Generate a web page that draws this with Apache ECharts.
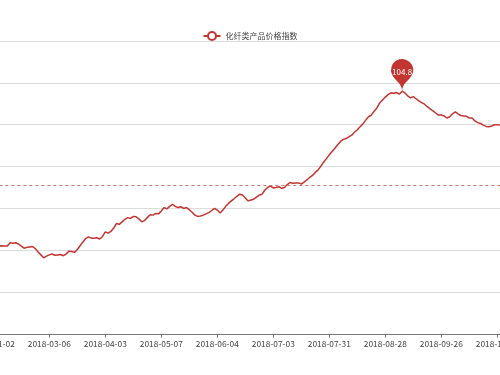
<!DOCTYPE html>
<html>
<head>
<meta charset="utf-8">
<script src="https://cdn.jsdelivr.net/npm/echarts@6/dist/echarts.min.js"></script>
<style>
html,body{margin:0;padding:0;background:#fff;overflow:hidden;width:500px;height:375px;position:relative;}
#chart{width:520px;height:375px;position:absolute;left:-10px;top:0;}
</style>
</head>
<body>
<div id="chart"></div>
<script>
var seriesName = '化纤类产品价格指数';

var dates = [
'2018-01-02','2018-01-31','2018-02-01','2018-02-02','2018-02-05','2018-02-06','2018-02-07','2018-02-08','2018-02-09','2018-02-12',
'2018-02-13','2018-02-14','2018-02-22','2018-02-23','2018-02-26','2018-02-27','2018-02-28','2018-03-01','2018-03-02','2018-03-05',
'2018-03-06','2018-03-07','2018-03-08','2018-03-09','2018-03-12','2018-03-13','2018-03-14','2018-03-15','2018-03-16','2018-03-19',
'2018-03-20','2018-03-21','2018-03-22','2018-03-23','2018-03-26','2018-03-27','2018-03-28','2018-03-29','2018-03-30','2018-04-02',
'2018-04-03','2018-04-04','2018-04-09','2018-04-10','2018-04-11','2018-04-12','2018-04-13','2018-04-16','2018-04-17','2018-04-18',
'2018-04-19','2018-04-20','2018-04-23','2018-04-24','2018-04-25','2018-04-26','2018-04-27','2018-05-02','2018-05-03','2018-05-04',
'2018-05-07','2018-05-08','2018-05-09','2018-05-10','2018-05-11','2018-05-14','2018-05-15','2018-05-16','2018-05-17','2018-05-18',
'2018-05-21','2018-05-22','2018-05-23','2018-05-24','2018-05-25','2018-05-28','2018-05-29','2018-05-30','2018-05-31','2018-06-01',
'2018-06-04','2018-06-05','2018-06-06','2018-06-07','2018-06-08','2018-06-11','2018-06-12','2018-06-13','2018-06-14','2018-06-15',
'2018-06-19','2018-06-20','2018-06-21','2018-06-22','2018-06-25','2018-06-26','2018-06-27','2018-06-28','2018-06-29','2018-07-02',
'2018-07-03','2018-07-04','2018-07-05','2018-07-06','2018-07-09','2018-07-10','2018-07-11','2018-07-12','2018-07-13','2018-07-16',
'2018-07-17','2018-07-18','2018-07-19','2018-07-20','2018-07-23','2018-07-24','2018-07-25','2018-07-26','2018-07-27','2018-07-30',
'2018-07-31','2018-08-01','2018-08-02','2018-08-03','2018-08-06','2018-08-07','2018-08-08','2018-08-09','2018-08-10','2018-08-13',
'2018-08-14','2018-08-15','2018-08-16','2018-08-17','2018-08-20','2018-08-21','2018-08-22','2018-08-23','2018-08-24','2018-08-27',
'2018-08-28','2018-08-29','2018-08-30','2018-08-31','2018-09-03','2018-09-04','2018-09-05','2018-09-06','2018-09-07','2018-09-10',
'2018-09-11','2018-09-12','2018-09-13','2018-09-14','2018-09-17','2018-09-18','2018-09-19','2018-09-20','2018-09-21','2018-09-25',
'2018-09-26','2018-09-27','2018-09-28','2018-10-08','2018-10-09','2018-10-10','2018-10-11','2018-10-12','2018-10-15','2018-10-16',
'2018-10-17','2018-10-18','2018-10-19','2018-10-22','2018-10-23','2018-10-24','2018-10-25','2018-10-26','2018-10-29','2018-10-30',
'2018-10-31','2018-11-01','2018-11-02'
];

var values = [
101.15,101.13,101.10,101.11,101.10,101.10,101.18,101.17,101.18,101.15,
101.10,101.05,101.07,101.08,101.09,101.04,100.96,100.89,100.82,100.86,
100.89,100.91,100.88,100.89,100.90,100.87,100.91,100.98,100.97,100.95,
101.02,101.11,101.20,101.28,101.32,101.29,101.29,101.30,101.27,101.33,
101.44,101.41,101.45,101.53,101.64,101.62,101.68,101.74,101.78,101.76,
101.81,101.80,101.75,101.68,101.71,101.78,101.85,101.84,101.88,101.87,
101.94,102.02,101.99,102.05,102.10,102.05,102.02,102.04,102.00,102.02,
101.97,101.91,101.84,101.81,101.82,101.84,101.87,101.90,101.95,102.00,
101.96,101.89,101.96,102.05,102.12,102.18,102.23,102.29,102.34,102.32,
102.25,102.18,102.20,102.22,102.27,102.32,102.34,102.44,102.50,102.54,
102.49,102.50,102.52,102.48,102.50,102.57,102.62,102.60,102.61,102.61,
102.58,102.63,102.68,102.74,102.79,102.86,102.92,103.01,103.11,103.19,
103.28,103.36,103.44,103.52,103.60,103.65,103.67,103.71,103.75,103.82,
103.88,103.95,104.02,104.11,104.19,104.23,104.32,104.40,104.52,104.59,
104.66,104.72,104.76,104.75,104.77,104.73,104.80,104.76,104.69,104.64,
104.67,104.62,104.57,104.53,104.49,104.43,104.38,104.33,104.28,104.23,
104.23,104.21,104.16,104.19,104.26,104.31,104.26,104.22,104.21,104.20,
104.16,104.16,104.09,104.05,104.03,103.99,103.96,103.95,103.97,104.00,
104.00,103.99,103.99
];

var yMin = 99, yMax = 106, yInterval = 1;
var refLineValue = 102.56;

var FONT = '"Microsoft YaHei","Noto Sans CJK SC","Noto Sans",sans-serif';
var chart = echarts.init(document.getElementById('chart'), null, {renderer: 'canvas'});
chart.setOption({
  animation: false,
  color: ['#c23531'],
  textStyle: {fontFamily: FONT},
  legend: {
    top: 26,
    left: 'center',
    itemWidth: 17,
    itemHeight: 10,
    itemGap: 7,
    textStyle: {fontSize: 8, color: '#444', fontFamily: FONT},
    data: [seriesName]
  },
  grid: {left: 3.3, right: 7.1, top: 41, bottom: 41, containLabel: false, outerBoundsMode: 'none'},
  xAxis: {
    type: 'category',
    boundaryGap: false,
    data: dates,
    axisLine: {lineStyle: {color: '#777', width: 1}},
    axisTick: {length: 3.6, interval: 19, lineStyle: {color: '#777'}},
    axisLabel: {interval: 19, fontSize: 8.4, color: '#444', margin: 5.5, fontFamily: FONT},
    splitLine: {show: false}
  },
  yAxis: {
    type: 'value',
    min: yMin, max: yMax, interval: yInterval,
    axisLine: {show: false},
    axisTick: {show: false},
    axisLabel: {show: false},
    splitLine: {show: true, lineStyle: {color: '#dcdcdc', width: 1}}
  },
  series: [{
    name: seriesName,
    type: 'line',
    data: values,
    showSymbol: false,
    symbol: 'emptyCircle',
    symbolSize: 8,
    lineStyle: {width: 1.5, color: '#c23531'},
    itemStyle: {color: '#c23531'},
    markPoint: {
      symbol: 'pin',
      symbolSize: 37,
      data: [{type: 'max', name: '最大值'}],
      label: {color: '#fff', fontSize: 8, fontFamily: FONT},
      itemStyle: {color: '#c23531'}
    },
    markLine: {
      silent: true,
      symbol: 'none',
      label: {show: false},
      lineStyle: {color: '#c97a6e', width: 1, type: [3, 3]},
      data: [{yAxis: refLineValue}]
    }
  }]
});
</script>
</body>
</html>
